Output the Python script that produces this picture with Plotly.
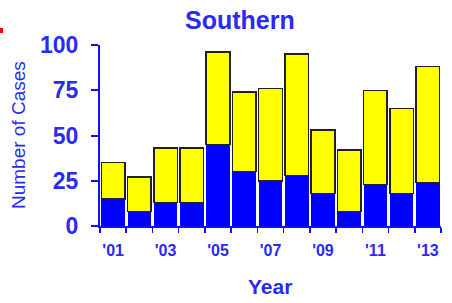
import plotly.graph_objects as go

years = ["2001", "2002", "2003", "2004", "2005", "2006", "2007",
         "2008", "2009", "2010", "2011", "2012", "2013"]
tick_text = ["'01", "", "'03", "", "'05", "", "'07", "", "'09", "", "'11", "", "'13"]
blue_values = [15, 8, 13, 13, 45, 30, 25, 28, 18, 8, 23, 18, 24]
totals = [35, 27, 43, 43, 96, 74, 76, 95, 53, 42, 75, 65, 88]
yellow_values = [t - b for t, b in zip(totals, blue_values)]
y_ticks = [0, 25, 50, 75, 100]

TEXT_BLUE = "#2a2af0"
FONT = "Liberation Sans, Arial, sans-serif"

W, H = 452, 303
ML, MR, MT, MB = 100, 11, 45, 77
PW, PH = W - ML - MR, H - MT - MB


def px(x):
    return (x - ML) / PW


def py(y):
    return (H - MB - y) / PH


fig = go.Figure()
fig.add_trace(go.Bar(x=years, y=blue_values, marker=dict(color="#0000ff", line=dict(width=0)),
                     showlegend=False, hoverinfo="skip"))
fig.add_trace(go.Bar(x=years, y=yellow_values, marker=dict(color="#ffff00", line=dict(color="#222222", width=1.5)),
                     showlegend=False, hoverinfo="skip"))

fig.update_layout(
    barmode="stack",
    bargap=0.1,
    width=W, height=H,
    margin=dict(l=ML, r=MR, t=MT, b=MB, pad=0, autoexpand=False),
    plot_bgcolor="white", paper_bgcolor="white",
    font=dict(family=FONT, color=TEXT_BLUE),
    xaxis=dict(
        type="category", tickson="boundaries", tickmode="array",
        tickvals=years, ticktext=tick_text, tickangle=0, automargin=False,
        showline=True, linecolor="#1010ff", linewidth=2,
        ticks="outside", ticklen=5, tickwidth=1.5, tickcolor="#1010ff",
        tickfont=dict(size=16, family=FONT, color=TEXT_BLUE, weight="bold"),
        ticklabelstandoff=9,
        showgrid=False, zeroline=False, range=[-0.5, 12.5],
    ),
    yaxis=dict(
        range=[0, 100], tickmode="array", tickvals=y_ticks, automargin=False,
        showline=True, linecolor="#1010ff", linewidth=2,
        ticks="outside", ticklen=7, tickwidth=2, tickcolor="#1010ff",
        tickfont=dict(size=23, family=FONT, color=TEXT_BLUE, weight="bold"),
        ticklabelstandoff=8,
        showgrid=False, zeroline=False,
    ),
    annotations=[
        dict(text="<b>Southern</b>", x=px(240), y=py(20), xref="paper", yref="paper",
             showarrow=False, xanchor="center", yanchor="middle",
             font=dict(size=25, family=FONT, color=TEXT_BLUE)),
        dict(text="Number of Cases", x=px(18), y=py(135), xref="paper", yref="paper",
             showarrow=False, xanchor="center", yanchor="middle", textangle=-90,
             font=dict(size=19, family=FONT, color=TEXT_BLUE)),
        dict(text="<b>Year</b>", x=px(270), y=py(286), xref="paper", yref="paper",
             showarrow=False, xanchor="center", yanchor="middle",
             font=dict(size=21, family=FONT, color=TEXT_BLUE)),
    ],
    shapes=[
        dict(type="rect", xref="paper", yref="paper",
             x0=px(0), x1=px(3), y0=py(33), y1=py(28),
             fillcolor="red", line=dict(width=0)),
    ],
)

fig.write_html("out.html", config={"displayModeBar": False, "staticPlot": True},
               post_script="document.body.style.margin='0';document.body.style.overflow='hidden';")
